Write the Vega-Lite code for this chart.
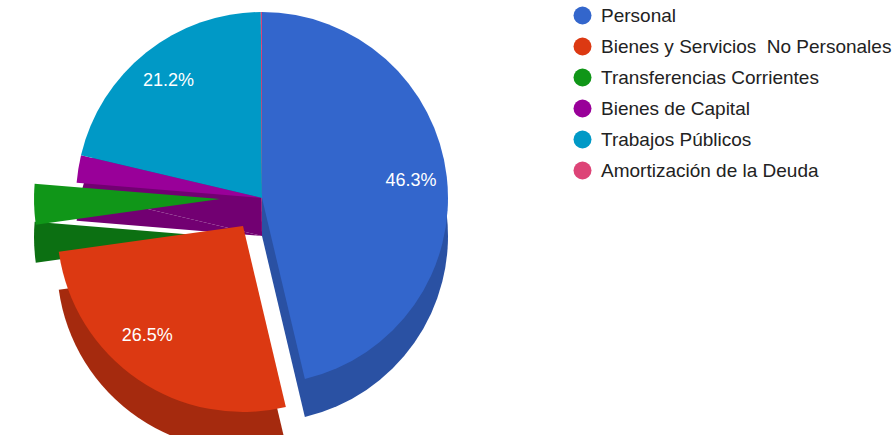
{
  "$schema": "https://vega.github.io/schema/vega-lite/v6.json",
  "width": 524,
  "height": 396,
  "padding": 0,
  "background": "white",
  "config": {"view": {"stroke": null}, "font": "Liberation Sans"},
  "data": {"values": [
    {"categoria": "Personal", "valor": 0.463, "orden": 1},
    {"categoria": "Bienes y Servicios  No Personales", "valor": 0.265, "orden": 2},
    {"categoria": "Transferencias Corrientes", "valor": 0.035, "orden": 3},
    {"categoria": "Bienes de Capital", "valor": 0.024, "orden": 4},
    {"categoria": "Trabajos Públicos", "valor": 0.212, "orden": 5},
    {"categoria": "Amortización de la Deuda", "valor": 0.001, "orden": 6}
  ]},
  "encoding": {
    "theta": {"field": "valor", "type": "quantitative", "stack": true},
    "order": {"field": "orden", "type": "quantitative"}
  },
  "layer": [
    {
      "mark": {"type": "arc", "radius": 186, "yOffset": 38, "strokeWidth": 0},
      "encoding": {
        "fill": {"condition": [
          {"test": "datum.categoria === 'Personal'", "value": "#2a51a3"},
          {"test": "datum.categoria === 'Bienes de Capital'", "value": "#720072"},
          {"test": "datum.categoria === 'Trabajos Públicos'", "value": "#720072"}
        ], "value": "#a63359"},
        "fillOpacity": {"condition": {"test": "datum.categoria !== 'Bienes y Servicios  No Personales' && datum.categoria !== 'Transferencias Corrientes'", "value": 1}, "value": 0}
      }
    },
    {
      "mark": {"type": "arc", "radius": 186, "xOffset": -19, "yOffset": 66, "strokeWidth": 0, "fill": "#a52a0e"},
      "encoding": {
        "fillOpacity": {"condition": {"test": "datum.categoria === 'Bienes y Servicios  No Personales'", "value": 1}, "value": 0}
      }
    },
    {
      "mark": {"type": "arc", "radius": 186, "xOffset": -42, "yOffset": 39, "strokeWidth": 0, "fill": "#0c7012"},
      "encoding": {
        "fillOpacity": {"condition": {"test": "datum.categoria === 'Transferencias Corrientes'", "value": 1}, "value": 0}
      }
    },
    {
      "mark": {"type": "arc", "radius": 186, "strokeWidth": 0},
      "encoding": {
        "color": {
          "field": "categoria", "type": "nominal",
          "scale": {
            "domain": ["Personal", "Bienes y Servicios  No Personales", "Transferencias Corrientes", "Bienes de Capital", "Trabajos Públicos", "Amortización de la Deuda"],
            "range": ["#3366cc", "#dc3912", "#109618", "#990099", "#0099c6", "#dd4477"]
          },
          "legend": {
            "title": null, "orient": "right", "offset": 43, "padding": 6,
            "symbolType": "circle", "symbolSize": 324, "symbolStrokeWidth": 0, "symbolOpacity": 1,
            "labelFontSize": 19, "labelColor": "#222222", "labelOffset": 9, "rowPadding": 11, "labelLimit": 400,
            "labelFont": "Liberation Sans",
            "labelExpr": "replace(datum.label, '  ', ' \u00a0')"
          }
        },
        "fillOpacity": {"condition": {"test": "datum.categoria !== 'Bienes y Servicios  No Personales' && datum.categoria !== 'Transferencias Corrientes'", "value": 1}, "value": 0}
      }
    },
    {
      "mark": {"type": "arc", "radius": 186, "xOffset": -19, "yOffset": 28, "strokeWidth": 0},
      "encoding": {
        "color": {"field": "categoria", "type": "nominal"},
        "fillOpacity": {"condition": {"test": "datum.categoria === 'Bienes y Servicios  No Personales'", "value": 1}, "value": 0}
      }
    },
    {
      "mark": {"type": "arc", "radius": 186, "xOffset": -42, "yOffset": 1, "strokeWidth": 0},
      "encoding": {
        "color": {"field": "categoria", "type": "nominal"},
        "fillOpacity": {"condition": {"test": "datum.categoria === 'Transferencias Corrientes'", "value": 1}, "value": 0}
      }
    },
    {
      "mark": {"type": "text", "radius": 150, "fontSize": 18, "fill": "white", "font": "Liberation Sans"},
      "encoding": {
        "text": {"field": "valor", "type": "quantitative", "format": ".1%"},
        "opacity": {"condition": {"test": "datum.categoria === 'Personal' || datum.categoria === 'Trabajos Públicos'", "value": 1}, "value": 0}
      }
    },
    {
      "mark": {"type": "text", "radius": 150, "fontSize": 18, "fill": "white", "font": "Liberation Sans", "xOffset": -30, "yOffset": 14},
      "encoding": {
        "text": {"field": "valor", "type": "quantitative", "format": ".1%"},
        "opacity": {"condition": {"test": "datum.categoria === 'Bienes y Servicios  No Personales'", "value": 1}, "value": 0}
      }
    }
  ]
}
